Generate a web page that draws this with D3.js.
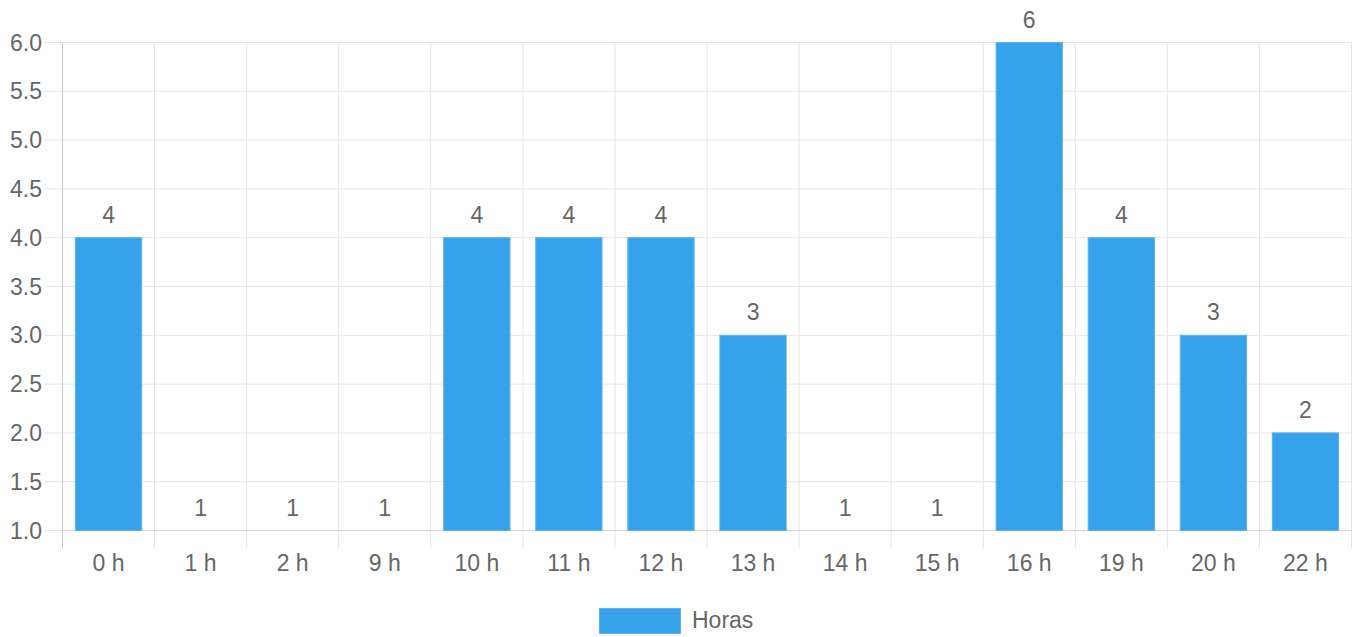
<!DOCTYPE html>
<html><head><meta charset="utf-8">
<script src="https://cdn.jsdelivr.net/npm/d3@7"></script>
<style>body{margin:0;background:#fff;}svg{display:block;font-family:"Liberation Sans",Arial,Helvetica,sans-serif;}</style>
</head><body><svg id="c" width="1353" height="637"></svg>
<script>
const categories = ["0 h","1 h","2 h","9 h","10 h","11 h","12 h","13 h","14 h","15 h","16 h","19 h","20 h","22 h"];
const values = [4,1,1,1,4,4,4,3,1,1,6,4,3,2];
const yTicks = [1.0,1.5,2.0,2.5,3.0,3.5,4.0,4.5,5.0,5.5,6.0];
const seriesName = "Horas";

const svg = d3.select("#c");
const L = 62.5, R = 1351.5, T = 42.5, B = 530.5;
const x = d3.scaleBand().domain(categories).range([L, R]).paddingInner(0).paddingOuter(0);
const y = d3.scaleLinear().domain([1,6]).range([B, T]);
const grid = "#e5e5e5", txt = "#666";
const fs = 23;

// horizontal grid
svg.append("g").selectAll("line").data(yTicks).join("line")
  .attr("x1", L-18).attr("x2", R).attr("y1", d=>y(d)).attr("y2", d=>y(d))
  .attr("stroke", grid).attr("stroke-width",1);
// vertical grid
const vx = categories.map((c,i)=>x(c)).concat([R]);
svg.append("g").selectAll("line").data(vx.slice(1)).join("line")
  .attr("x1", d=>d).attr("x2", d=>d).attr("y1", T).attr("y2", B+18)
  .attr("stroke", grid).attr("stroke-width",1);
// y axis line
svg.append("line").attr("x1",L).attr("x2",L).attr("y1",T).attr("y2",B+18).attr("stroke","#c8c8c8").attr("stroke-width",1);
// bottom axis line
svg.append("line").attr("x1",L).attr("x2",R).attr("y1",B).attr("y2",B).attr("stroke","#d5d5d5").attr("stroke-width",1);

// y labels
svg.append("g").selectAll("text").data(yTicks).join("text")
  .attr("x", 42).attr("y", d=>y(d)).attr("dy","0.35em").attr("text-anchor","end")
  .attr("fill",txt).attr("font-size",fs).text(d=>d.toFixed(1));
// x labels
svg.append("g").selectAll("text").data(categories).join("text")
  .attr("x", d=>x(d)+x.bandwidth()/2).attr("y", 563).attr("dy","0.35em").attr("text-anchor","middle")
  .attr("fill",txt).attr("font-size",fs).text(d=>d);

// bars
const bw = x.bandwidth()*0.72;
svg.append("g").selectAll("rect").data(values).join("rect")
  .attr("x",(d,i)=>x(categories[i])+(x.bandwidth()-bw)/2)
  .attr("y",d=>y(d)).attr("width",bw).attr("height",d=>Math.max(0,y(1)-y(d)))
  .attr("fill","#36a2eb").attr("stroke","#5cb3f0").attr("stroke-width",1);
// value labels
svg.append("g").selectAll("text").data(values).join("text")
  .attr("x",(d,i)=>x(categories[i])+x.bandwidth()/2).attr("y",d=>y(d)-23).attr("dy","0.35em")
  .attr("text-anchor","middle").attr("fill",txt).attr("font-size",fs).text(d=>d);

// legend
svg.append("rect").attr("x",599.5).attr("y",608.5).attr("width",81).attr("height",25)
  .attr("fill","#36a2eb").attr("stroke","#5cb3f0");
svg.append("text").attr("x",692).attr("y",620).attr("dy","0.35em").attr("fill",txt).attr("font-size",fs).text(seriesName);
</script></body></html>
